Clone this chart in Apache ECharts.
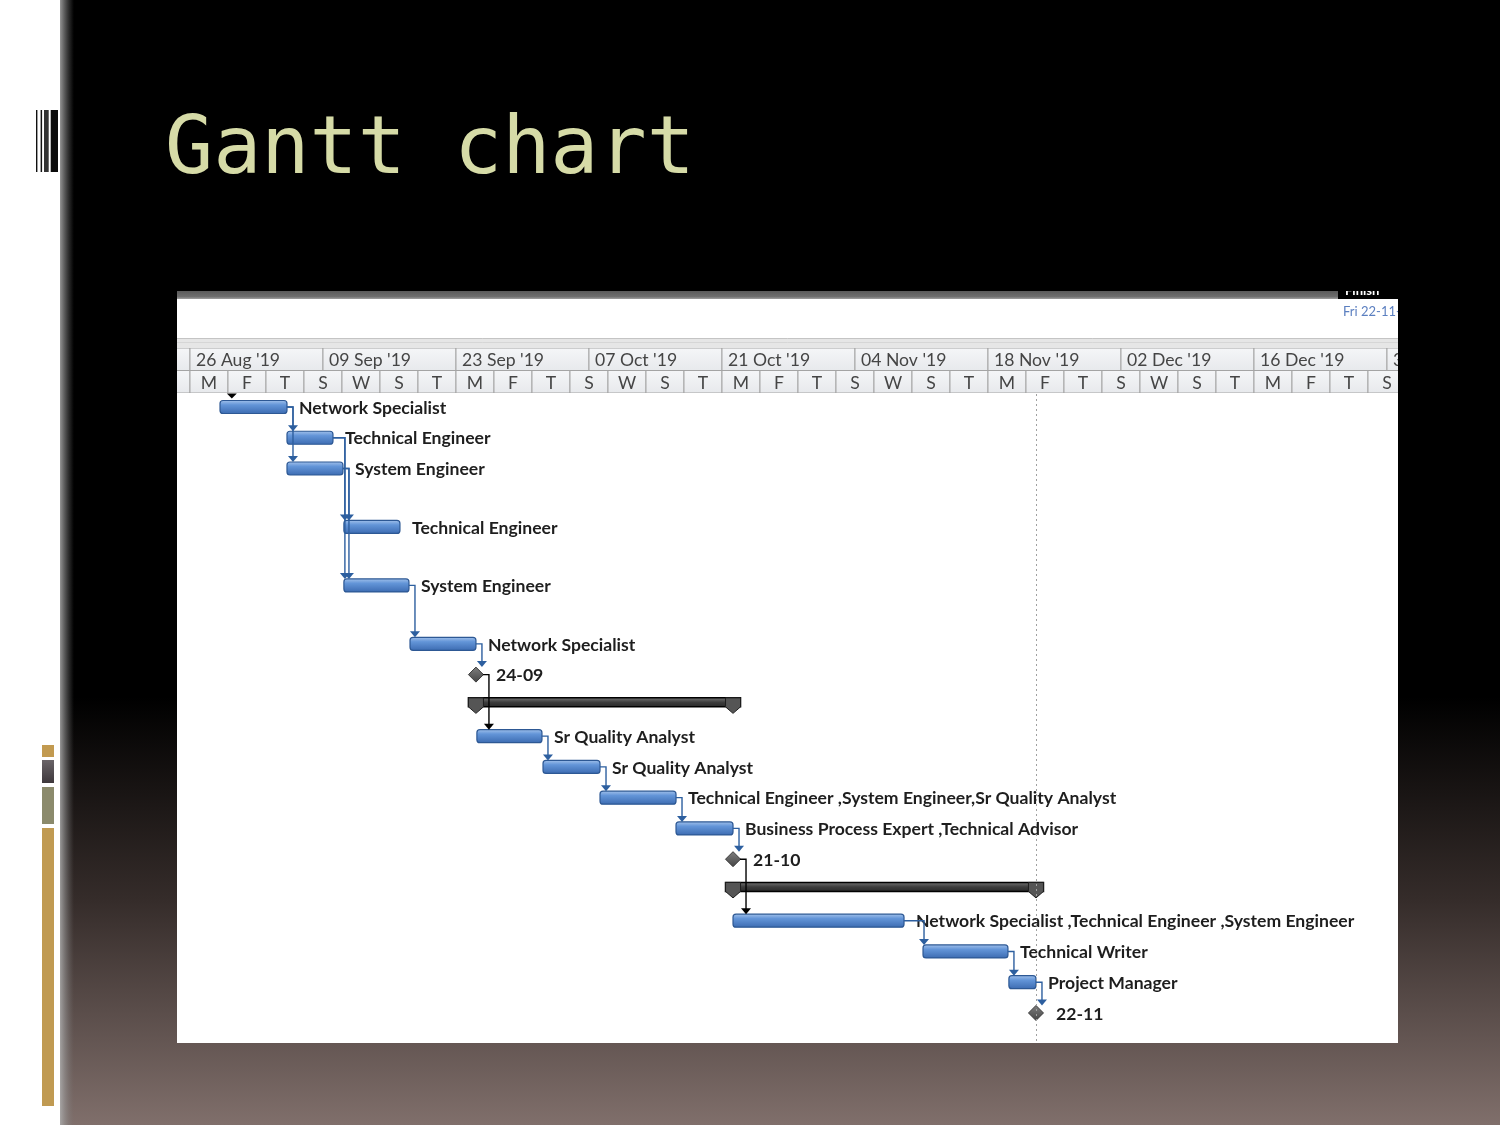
<!DOCTYPE html>
<html><head><meta charset="utf-8">
<script src="https://cdn.jsdelivr.net/npm/echarts@6/dist/echarts.min.js"></script>
<style>html,body{margin:0;padding:0;background:#000}#c{width:1500px;height:1125px}</style>
</head><body><div id="c"></div><script>
// ---- Timescale (days counted from Mon 26 Aug 2019) ----
const upperTierStart = [-14, 0, 14, 28, 42, 56, 70, 84, 98, 112, 126];
const upperTierLabels = ["12 Aug '19", "26 Aug '19", "09 Sep '19", "23 Sep '19", "07 Oct '19", "21 Oct '19", "04 Nov '19", "18 Nov '19", "02 Dec '19", "16 Dec '19", "30 Dec '19"];
const lowerTierStart = [-4, 0, 4, 8, 12, 16, 20, 24, 28, 32, 36, 40, 44, 48, 52, 56, 60, 64, 68, 72, 76, 80, 84, 88, 92, 96, 100, 104, 108, 112, 116, 120, 124];
const lowerTierLabels = ["T", "M", "F", "T", "S", "W", "S", "T", "M", "F", "T", "S", "W", "S", "T", "M", "F", "T", "S", "W", "S", "T", "M", "F", "T", "S", "W", "S", "T", "M", "F", "T", "S"];

// ---- Tasks ----
const taskNames = ["Network Specialist", "Technical Engineer", "System Engineer", "Technical Engineer", "System Engineer", "Network Specialist", "24-09", "", "Sr Quality Analyst", "Sr Quality Analyst", "Technical Engineer ,System Engineer,Sr Quality Analyst", "Business Process Expert ,Technical Advisor", "21-10", "", "Network Specialist ,Technical Engineer ,System Engineer", "Technical Writer", "Project Manager", "22-11"];
const taskKinds = ["task", "task", "task", "task", "task", "task", "milestone", "summary", "task", "task", "task", "task", "milestone", "summary", "task", "task", "task", "milestone"];
const taskStart = [3.16, 10.21, 10.21, 16.2, 16.2, 23.16, 30.1, 30.1, 30.2, 37.16, 43.16, 51.16, 57.16, 57.16, 57.16, 77.16, 86.2, 89.05];
const taskFinish = [10.21, 15.05, 16.1, 22.1, 23.05, 30.1, 30.1, 57.16, 37.05, 43.16, 51.16, 57.16, 57.16, 89.05, 75.16, 86.1, 89.05, 89.05];
const taskRow = [0, 1, 2, 3.9, 5.8, 7.7, 8.7, 9.7, 10.7, 11.7, 12.7, 13.7, 14.7, 15.7, 16.7, 17.7, 18.7, 19.7];

// ---- Dependencies (finish-to-start) ----
const linkFrom = [0, 0, 1, 1, 2, 2, 4, 5, 6, 8, 9, 10, 11, 12, 14, 15, 16];
const linkTo   = [1, 2, 3, 4, 3, 4, 5, 6, 8, 9, 10, 11, 12, 14, 15, 16, 17];

const projectStartDay = 4.4;
const finishLineDay = 89.05;

const LG = echarts.graphic.LinearGradient;
const chart = echarts.init(document.getElementById('c'), null, {renderer: 'canvas'});

const headerData = [];
const headerText = [];
upperTierStart.forEach((s, i) => { headerData.push([s, s + 14, 0]); headerText.push(upperTierLabels[i]); });
lowerTierStart.forEach((s, i) => { headerData.push([s, s + 4, 1]); headerText.push(lowerTierLabels[i]); });

const taskData = taskStart.map((s, i) => [s, taskFinish[i], taskRow[i]]);
const linkData = linkFrom.map((f, i) => [f, linkTo[i]]);

const barFill = new LG(0, 0, 0, 1, [
  {offset: 0, color: '#a6c4ec'}, {offset: 0.35, color: '#6395d8'}, {offset: 1, color: '#3b6ab0'}]);
const sumFill = new LG(0, 0, 0, 1, [
  {offset: 0, color: '#7a7a7a'}, {offset: 0.5, color: '#3c3c3c'}, {offset: 1, color: '#262626'}]);
const diaFill = new LG(0, 0, 0, 1, [
  {offset: 0, color: '#808080'}, {offset: 1, color: '#444444'}]);
const labelFont = {fontFamily: 'Lato', fontWeight: 'bold', fontSize: 17.6, fill: '#1e1e1e'};

function renderHeader(params, api) {
  const s = api.value(0), e = api.value(1), tier = api.value(2);
  const p0 = api.coord([s, tier]);
  const p1 = api.coord([e, tier + 1]);
  const txt = headerText[params.dataIndex];
  return {type: 'group', children: [
    {type: 'rect', shape: {x: p0[0], y: p0[1], width: p1[0] - p0[0], height: p1[1] - p0[1]},
     style: {fill: new LG(0, 0, 0, 1, [{offset: 0, color: '#f5f6f8'}, {offset: 1, color: '#e7e9ec'}]), stroke: '#a4a4a4', lineWidth: 1}},
    {type: 'text', style: {text: txt, x: tier === 0 ? p0[0] + 6 : (p0[0] + p1[0]) / 2, y: (p0[1] + p1[1]) / 2 + 1.5,
      textAlign: tier === 0 ? 'left' : 'center', textVerticalAlign: 'middle',
      fontFamily: 'Lato', fontSize: 17.6, fill: '#454545'}}
  ]};
}

function renderTask(params, api) {
  const i = params.dataIndex;
  const kind = taskKinds[i];
  const a = api.coord([api.value(0), api.value(2)]);
  const b = api.coord([api.value(1), api.value(2)]);
  const y = a[1], x0 = a[0], x1 = b[0];
  const ch = [];
  if (kind === 'task') {
    ch.push({type: 'rect', shape: {x: x0, y: y - 6.5, width: x1 - x0, height: 13, r: 3},
      style: {fill: barFill, stroke: '#2d5894', lineWidth: 1.2}});
    ch.push({type: 'text', style: Object.assign({text: taskNames[i], x: x1 + 12, y: y + 1,
      textAlign: 'left', textVerticalAlign: 'middle'}, labelFont)});
  } else if (kind === 'milestone') {
    const h = 7.5;
    ch.push({type: 'polygon', shape: {points: [[x0, y - h], [x0 + h, y], [x0, y + h], [x0 - h, y]]},
      style: {fill: diaFill, stroke: '#3a3a3a', lineWidth: 1}});
    ch.push({type: 'text', style: Object.assign({text: taskNames[i], x: x0 + 20, y: y + 1,
      textAlign: 'left', textVerticalAlign: 'middle'}, labelFont)});
  } else {
    const top = y - 7.5, bot = y + 1.5, w = 7.5;
    ch.push({type: 'rect', shape: {x: x0 - w, y: top, width: x1 - x0 + 2 * w, height: bot - top},
      style: {fill: sumFill, stroke: '#000', lineWidth: 1.5}});
    [x0, x1].forEach(x => ch.push({type: 'polygon',
      shape: {points: [[x - w, top], [x + w, top], [x + w, bot], [x, bot + 6.5], [x - w, bot]]},
      style: {fill: '#555555', stroke: '#1e1e1e', lineWidth: 1}}));
  }
  return {type: 'group', children: ch};
}

function renderLink(params, api) {
  const f = api.value(0), t = api.value(1);
  const X = d => api.coord([d, 0])[0];
  const Y = r => api.coord([0, r])[1];
  const fromMs = taskKinds[f] === 'milestone';
  const fx = fromMs ? X(taskStart[f]) + 7 : X(taskFinish[f]);
  const fy = Y(taskRow[f]);
  const tx = X(taskStart[t]);
  const ty = Y(taskRow[t]) - (taskKinds[t] === 'milestone' ? 7.5 : 6.5);
  const vx = Math.max(fx + 6, tx + 1);
  const col = fromMs ? '#000000' : '#2d5f9f';
  return {type: 'group', children: [
    {type: 'polyline', shape: {points: [[fx, fy], [vx, fy], [vx, ty - 5]]},
      style: {stroke: col, lineWidth: 1.4, fill: null}},
    {type: 'polygon', shape: {points: [[vx - 5, ty - 6], [vx + 5, ty - 6], [vx, ty]]},
      style: {fill: col}}
  ]};
}

function renderStart(params, api) {
  const x = api.coord([api.value(0), 0])[0];
  const top = params.coordSys.y - 0.5;
  return {type: 'polygon', shape: {points: [[x - 5, top], [x + 5, top], [x, top + 5]]}, style: {fill: '#000'}};
}

const g = [];
// slide background
g.push({type: 'rect', z: 0, shape: {x: 0, y: 0, width: 60, height: 1125}, style: {fill: '#ffffff'}});
g.push({type: 'rect', z: 0, shape: {x: 60, y: 0, width: 1440, height: 1125}, style: {fill: new LG(0, 0, 0, 1, [
  {offset: 0, color: '#000000'}, {offset: 0.62, color: '#000000'}, {offset: 0.8, color: '#352c2a'}, {offset: 1, color: '#806f6b'}])}});
g.push({type: 'rect', z: 0, shape: {x: 60, y: 0, width: 14, height: 1125}, style: {fill: new LG(0, 0, 1, 0, [
  {offset: 0, color: 'rgba(175,175,175,0.85)'}, {offset: 1, color: 'rgba(120,120,120,0)'}])}});
// left strip decoration
[[36, 1.4, '#111'], [40.6, 1.5, '#111'], [44, 4.7, '#333'], [50.7, 7.3, '#0a0a0a']].forEach(d =>
  g.push({type: 'rect', z: 0, shape: {x: d[0], y: 110, width: d[1], height: 62}, style: {fill: d[2]}}));
g.push({type: 'rect', z: 0, shape: {x: 42, y: 745, width: 12, height: 12}, style: {fill: '#c29a50'}});
g.push({type: 'rect', z: 0, shape: {x: 42, y: 760, width: 12, height: 23}, style: {fill: new LG(0, 0, 0, 1, [{offset: 0, color: '#6a6468'}, {offset: 1, color: '#3e383c'}])}});
g.push({type: 'rect', z: 0, shape: {x: 42, y: 787, width: 12, height: 37}, style: {fill: '#8b8a6c'}});
g.push({type: 'rect', z: 0, shape: {x: 42, y: 828, width: 12, height: 278}, style: {fill: '#c09a52'}});
// title
g.push({type: 'text', z: 5, style: {text: 'Gantt chart', x: 165, y: 152, textAlign: 'left', textVerticalAlign: 'middle',
  fontFamily: 'DejaVu Sans Mono', fontSize: 80, fill: '#d6dba7'}});
// screenshot panel
g.push({type: 'rect', z: 1, shape: {x: 177, y: 299, width: 1221, height: 744}, style: {fill: '#ffffff'}});
g.push({type: 'rect', z: 1, shape: {x: 177, y: 291, width: 1161, height: 8}, style: {fill: new LG(0, 0, 0, 1, [
  {offset: 0, color: '#5a5a5a'}, {offset: 0.7, color: '#6e6e6e'}, {offset: 1, color: '#a0a0a0'}])}});
g.push({type: 'text', z: 1, style: {text: 'Finish', x: 1345, y: 284, textAlign: 'left', textVerticalAlign: 'top',
  fontFamily: 'Lato', fontWeight: 'bold', fontSize: 13, fill: '#ffffff'}});
g.push({type: 'rect', z: 1, shape: {x: 1338, y: 270, width: 80, height: 21}, style: {fill: '#000'}});
g.push({type: 'text', z: 1, style: {text: 'Fri 22-11-19', x: 1343, y: 312, textAlign: 'left', textVerticalAlign: 'middle',
  fontFamily: 'Lato', fontSize: 13, fill: '#5b7fc0'}});
g.push({type: 'rect', z: 1, shape: {x: 1398, y: 299, width: 102, height: 30}, style: {fill: '#000'}});
g.push({type: 'rect', z: 1, shape: {x: 177, y: 338, width: 1221, height: 10}, style: {fill: '#e6e6e6'}});
g.push({type: 'line', z: 1, shape: {x1: 177, y1: 338.5, x2: 1398, y2: 338.5}, style: {stroke: '#c4c4c4', lineWidth: 1}});
g.push({type: 'line', z: 1, shape: {x1: 177, y1: 342.5, x2: 1398, y2: 342.5}, style: {stroke: '#d6d6d6', lineWidth: 1}});

const xMin = -1.368, xMax = 127.158;
chart.setOption({
  animation: false,
  graphic: {elements: g},
  grid: [
    {left: 177, top: 394, width: 1221, height: 649},
    {left: 177, top: 348, width: 1221, height: 45}
  ],
  xAxis: [
    {type: 'value', gridIndex: 0, min: xMin, max: xMax, show: false},
    {type: 'value', gridIndex: 1, min: xMin, max: xMax, show: false}
  ],
  yAxis: [
    {type: 'value', gridIndex: 0, min: -0.4226, max: 20.676, inverse: true, show: false},
    {type: 'value', gridIndex: 1, min: 0, max: 2, inverse: true, show: false}
  ],
  series: [
    {type: 'custom', xAxisIndex: 1, yAxisIndex: 1, clip: true, z: 3, silent: true,
     renderItem: renderHeader, data: headerData, encode: {x: [0, 1], y: 2}},
    {type: 'custom', xAxisIndex: 0, yAxisIndex: 0, clip: false, z: 2, silent: true,
     renderItem: renderTask, data: taskData, encode: {x: [0, 1], y: 2},
     markLine: {silent: true, symbol: 'none', label: {show: false},
       lineStyle: {color: '#a0a0a0', type: [2, 3], width: 1}, data: [{xAxis: finishLineDay}]}},
    {type: 'custom', xAxisIndex: 0, yAxisIndex: 0, clip: false, z: 4, silent: true,
     renderItem: renderLink, data: linkData, encode: {x: 0, y: 1}},
    {type: 'custom', xAxisIndex: 0, yAxisIndex: 0, clip: false, z: 4, silent: true,
     renderItem: renderStart, data: [[projectStartDay, 0]], encode: {x: 0, y: 1}}
  ]
});
</script></body></html>
